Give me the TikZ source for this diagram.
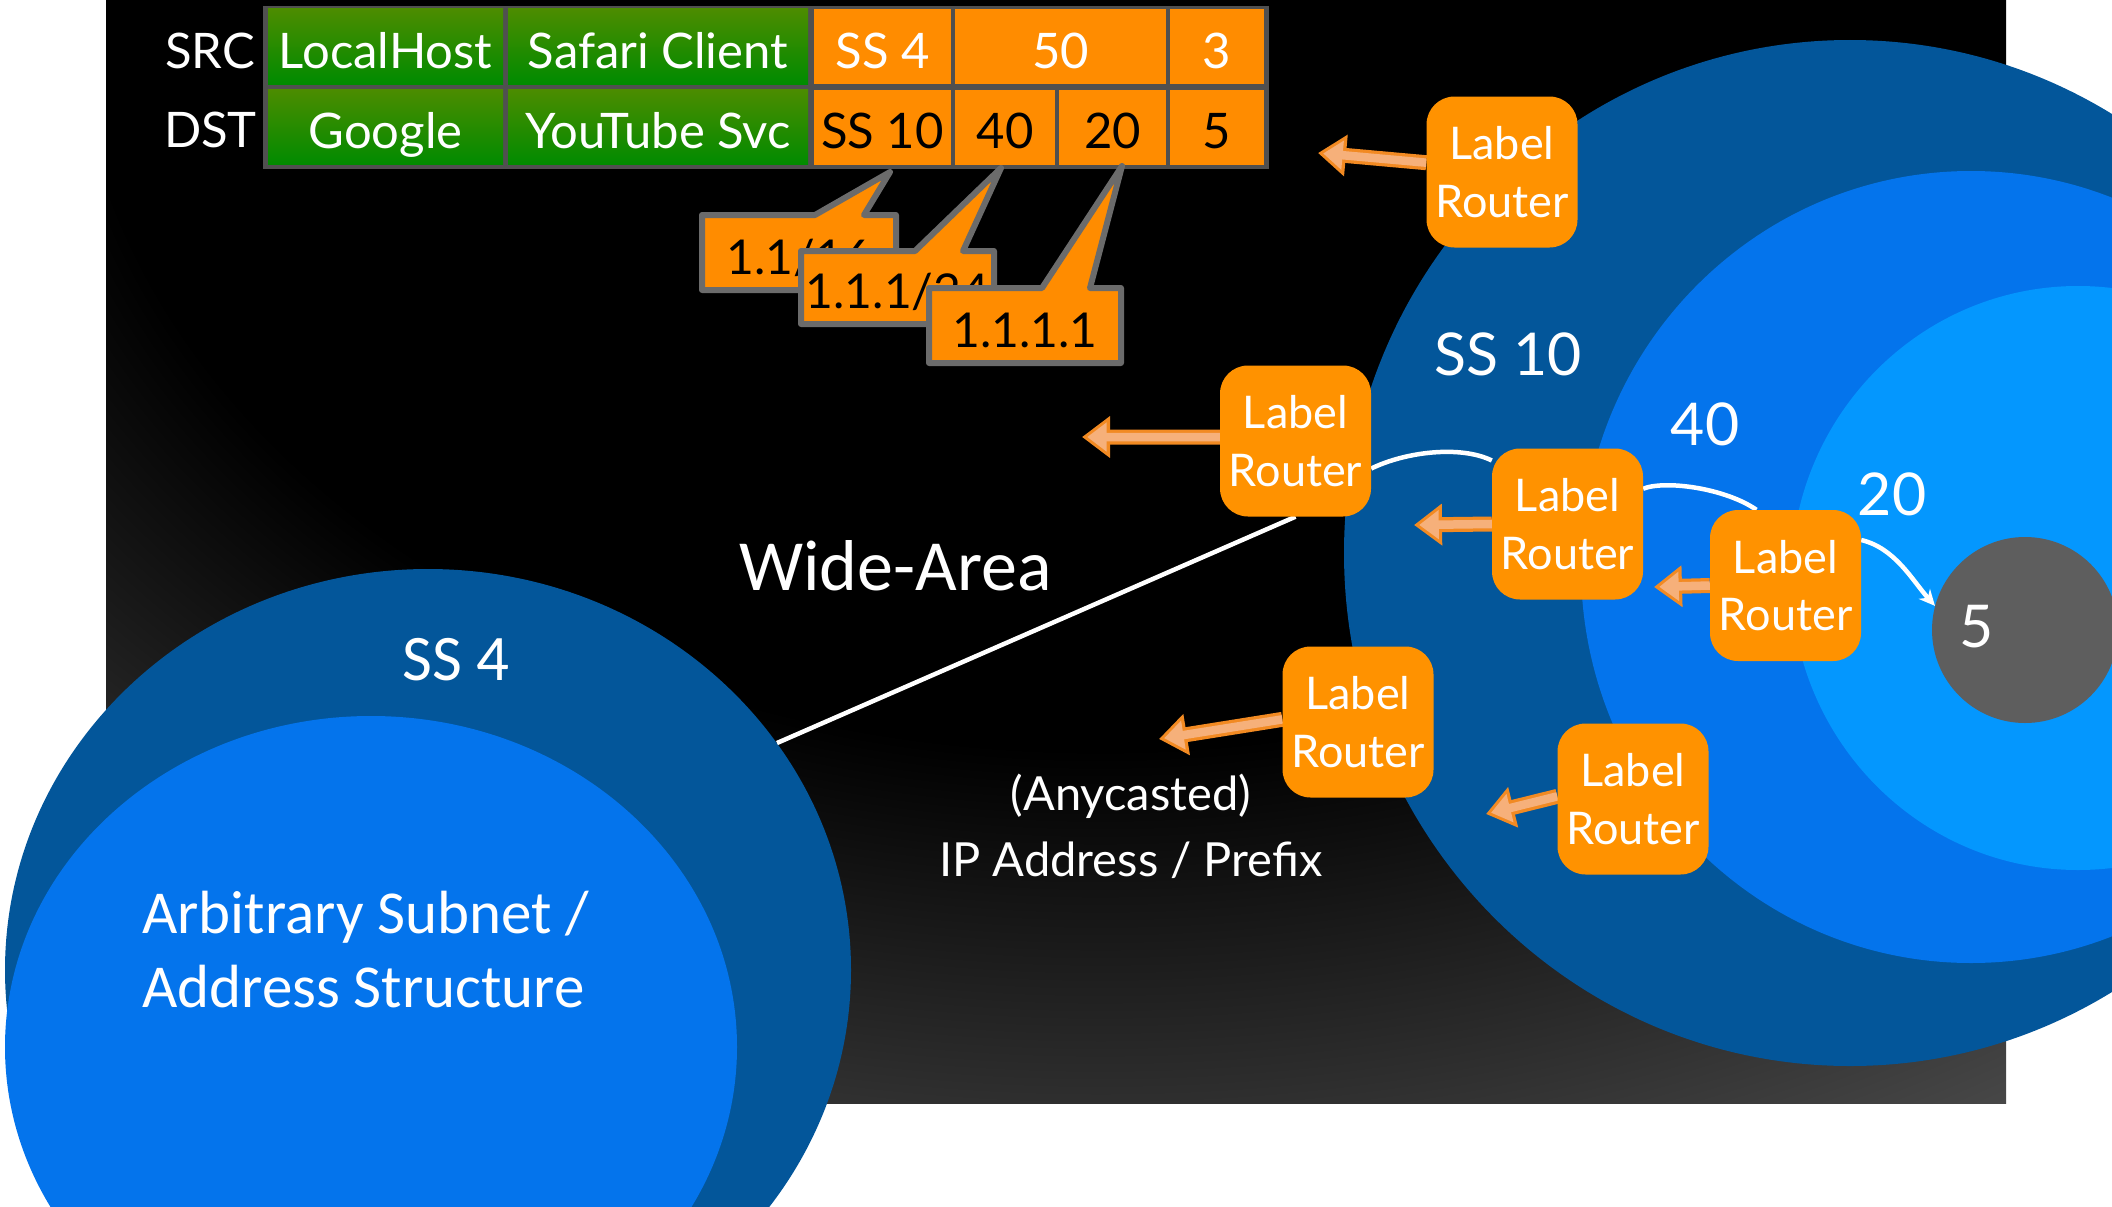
\documentclass[tikz,border=0pt]{standalone}
\usepackage{fontspec}
\setmainfont{Lato}
\newfontfamily\calib{Carlito}
\usetikzlibrary{arrows.meta}
\definecolor{darkblue}{HTML}{03569A}
\definecolor{midblue}{HTML}{0474EC}
\definecolor{lightblue}{HTML}{0497FE}
\definecolor{gray5}{HTML}{5E5E5E}
\definecolor{boxorange}{HTML}{FF9200}
\definecolor{cellorange}{HTML}{FF8C00}
\definecolor{arrowrim}{HTML}{F28A22}
\definecolor{arrowfill}{HTML}{F6B07A}
\definecolor{tablegray}{HTML}{505050}
\definecolor{calloutgray}{HTML}{6B6B6B}
\definecolor{greentop}{HTML}{4C8C00}
\definecolor{greenbot}{HTML}{008B00}
\definecolor{bgbot}{HTML}{474747}
\definecolor{bgend}{HTML}{5A5A5A}
\pgfdeclareradialshading{bgrad}{\pgfpoint{0bp}{0bp}}{color(0bp)=(black); color(13.1bp)=(black); color(22.5bp)=(bgbot); color(25bp)=(bgend); color(50bp)=(bgend)}
\pgfdeclarelayer{back}
\pgfdeclarelayer{links}
\pgfsetlayers{back,links,main}
\tikzset{
  lrbox/.style={rectangle, rounded corners=28pt, fill=boxorange, text=white,
    minimum width=151pt, minimum height=151pt, inner sep=0pt, align=center,
    font=\fontsize{45}{57.5}\selectfont},
  lrarrow/.style={draw=arrowrim, line width=15pt, -{Triangle[length=28pt,width=40pt]},
    postaction={draw=arrowfill, line width=8.5pt, shorten >=5.2pt, -{Triangle[length=19.5pt,width=28pt]}}},
  wlink/.style={draw=white, line width=4.5pt},
  cell/.style={inner sep=0pt, minimum height=75pt, text height=43pt, text depth=0pt,
    font=\fontsize{49}{55}\selectfont},
  gcell/.style={cell, top color=greentop, bottom color=greenbot, text=white},
  ocell/.style={cell, fill=cellorange},
  calloutbox/.style={fill=cellorange, draw=calloutgray, line width=6pt, line join=round},
  callouttext/.style={anchor=base, inner sep=0pt, text=black, font=\fontsize{48}{55}\selectfont},
  lbl/.style={inner sep=0pt, text=white},
}
\begin{document}
\begin{tikzpicture}[x=1pt,y=-1pt]
\useasboundingbox (0,0) rectangle (2112,1207);
\begin{pgfonlayer}{back}
  \fill[white] (0,0) rectangle (2112,1207);
  \begin{scope}
    \clip (106,0) rectangle (2006,1103);
    \shade[shading=bgrad] (1100,0) ellipse [x radius=1950pt, y radius=1430pt];
  \end{scope}
  % SS 4 area
  \fill[darkblue] (428,970) ellipse [x radius=423pt, y radius=401pt];
  \fill[midblue] (371,1047) ellipse [x radius=366pt, y radius=331pt];
  % SS 10 area
  \fill[darkblue] (1850,553) ellipse [x radius=506pt, y radius=513pt];
  \fill[midblue] (1971,567) ellipse [x radius=390pt, y radius=396pt];
  \fill[lightblue] (2078,578) ellipse [x radius=287pt, y radius=292pt];
\end{pgfonlayer}

% circle 5
\node[circle, fill=gray5, minimum size=186pt, inner sep=0pt] (c5) at (2025,630) {};

% Label routers
\node[lrbox] (box1) at (1502,172) {Label\\Router};
\node[lrbox] (box2) at (1295.5,441) {Label\\Router};
\node[lrbox] (box3) at (1567.5,524) {Label\\Router};
\node[lrbox] (box4) at (1785.5,585.5) {Label\\Router};
\node[lrbox] (box5) at (1358,722) {Label\\Router};
\node[lrbox] (box6) at (1633,799) {Label\\Router};

\coordinate (t1) at (1318,153);
\coordinate (t2) at (1082,437);
\coordinate (t3) at (1414,525);
\coordinate (t4) at (1654,587);
\coordinate (t5) at (1159,739);
\coordinate (t6) at (1486,814);
\coordinate (wa) at (777,743);

\begin{pgfonlayer}{links}
  \draw[wlink] (wa) -- (box2.south);
  \draw[wlink] (box2.-20) .. controls (1405,452) and (1460,445) .. (box3.140);
  \draw[wlink] (box3.25) .. controls (1665,480) and (1725,488) .. (box4.111);
  \draw[wlink, -{Stealth[length=16pt,width=15pt]}] (box4.31) .. controls (1895,548) and (1912,580) .. (c5.165);
  \draw[lrarrow] (box1.173) -- (t1);
  \draw[lrarrow] (box2.177) -- (t2);
  \draw[lrarrow] (box3.west) -- (t3);
  \draw[lrarrow] (box4.west) -- (t4);
  \draw[lrarrow] (box5.178) -- (t5);
  \draw[lrarrow] (box6.178) -- (t6);
\end{pgfonlayer}

% table
\node[fill=tablegray, minimum width=1006pt, minimum height=163pt, inner sep=0pt] (tbl) at (766,87.5) {};
\node[gcell, minimum width=235pt] (src1) at (385.5,46.5) {LocalHost};
\node[gcell, minimum width=300pt] (src2) at (658,46.5) {Safari Client};
\node[ocell, text=white, minimum width=137pt] (src3) at (882.5,46.5) {SS 4};
\node[ocell, text=white, minimum width=211pt] (src4) at (1060.5,46.5) {50};
\node[ocell, text=white, minimum width=94pt] (src5) at (1217,46.5) {3};
\node[gcell, minimum width=235pt] (dst1) at (385.5,127) {Google};
\node[gcell, minimum width=300pt] (dst2) at (658,127) {YouTube Svc};
\node[ocell, minimum width=137pt] (dst3) at (882.5,127) {SS 10};
\node[ocell, minimum width=100pt] (dst4) at (1005,127) {40};
\node[ocell, minimum width=107pt] (dst5) at (1112.5,127) {20};
\node[ocell, minimum width=94pt] (dst6) at (1217,127) {5};
\node[lbl, anchor=base east, font=\fontsize{49}{55}\selectfont] (srclbl) at (255,68) {SRC};
\node[lbl, anchor=base east, font=\fontsize{49}{55}\selectfont] (dstlbl) at (257,147) {DST};

% callouts
\path[calloutbox] (702,215) -- (815,215) -- (890,172) -- (864,215) -- (896,215) -- (896,290) -- (702,290) -- cycle;
\node[callouttext] (co1) at (799,274) {1.1/16};
\path[calloutbox] (801,251) -- (915,251) -- (1001,168) -- (963,251) -- (994,251) -- (994,324) -- (801,324) -- cycle;
\node[callouttext] (co2) at (897.5,308) {1.1.1/24};
\path[calloutbox] (929,288) -- (1042,288) -- (1122,166) -- (1090,288) -- (1121,288) -- (1121,363) -- (929,363) -- cycle;
\node[callouttext] (co3) at (1025,347) {1.1.1.1};

% labels
\node[lbl, anchor=base, font=\fontsize{59}{65}\selectfont] (ss10lbl) at (1508,375) {SS 10};
\node[lbl, anchor=base, font=\fontsize{59}{65}\selectfont] (l40) at (1705,445) {40};
\node[lbl, anchor=base, font=\fontsize{59}{65}\selectfont] (l20) at (1892,515) {20};
\node[lbl, anchor=base, font=\fontsize{59}{65}\selectfont] (l5) at (1977,647) {5};
\node[lbl, anchor=base, font=\calib\fontsize{65}{70}\selectfont] (ss4lbl) at (456,680) {SS 4};
\node[lbl, anchor=base west, font=\calib\fontsize{61}{70}\selectfont] (arb1) at (142,933) {Arbitrary Subnet /};
\node[lbl, anchor=base west, font=\calib\fontsize{61}{70}\selectfont] (arb2) at (142,1007) {Address Structure};
\node[lbl, anchor=base, font=\calib\fontsize{72}{80}\selectfont] (wide) at (895.5,590) {Wide-Area};
\node[lbl, anchor=base, font=\fontsize{47}{55}\selectfont] (any1) at (1131,810) {(Anycasted)};
\node[lbl, anchor=base, font=\fontsize{47}{55}\selectfont] (any2) at (1131,876) {IP Address / Prefix};
\end{tikzpicture}
\end{document}
